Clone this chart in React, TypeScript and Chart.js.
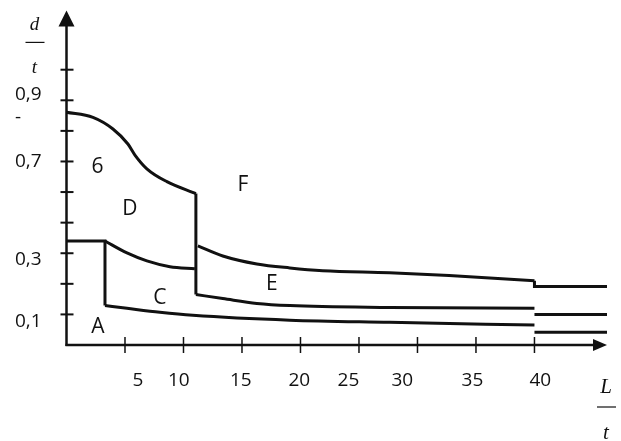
import React, { useEffect, useRef } from "react";
import { Chart, registerables } from "chart.js";

Chart.register(...registerables);

// ---- axis ticks and labels ----
const xTickValues = [5, 10, 15, 20, 25, 30, 35, 40];
const xTickLabels = ["5", "10", "15", "20", "25", "30", "35", "40"];
const xLabelAt = [6.1, 9.6, 14.9, 19.9, 24.1, 28.7, 34.7, 40.5];

const yTickValues = [0.1, 0.2, 0.3, 0.4, 0.5, 0.6, 0.7, 0.8, 0.9];
const yTickLabels = ["0,1", "0,3", "0,7", "-", "0,9"];
const yLabelAt = [0.076, 0.28, 0.6, 0.744, 0.82];

// ---- region labels ----
const regionNames = ["6", "D", "F", "C", "E", "A"];
const regionL = [2.65, 5.42, 15.07, 7.98, 17.55, 2.69];
const regionD = [0.581, 0.443, 0.524, 0.155, 0.199, 0.058];

// ---- boundary lines: [L/t, d/t] ----
const curve6: number[][] = [
  [0, 0.761], [2.26, 0.744], [3.97, 0.706], [5.25, 0.657], [5.85, 0.621],
  [6.87, 0.576], [8.58, 0.534], [11.06, 0.495],
];
const drop6: number[][] = [[11.06, 0.495], [11.06, 0.165]];
const curveELower: number[][] = [
  [11.06, 0.165], [13.36, 0.152], [16.27, 0.136], [19.09, 0.129], [27.6, 0.123], [40, 0.12],
];
const tailELower: number[][] = [[40, 0.1], [46.2, 0.1]];
const curveEUpper: number[][] = [
  [11.23, 0.324], [13.36, 0.291], [16.27, 0.265], [19.09, 0.252], [21.9, 0.243],
  [27.6, 0.236], [32.7, 0.227], [40, 0.21],
];
const tailEUpper: number[][] = [[40, 0.21], [40, 0.191], [46.2, 0.191]];
const stepA: number[][] = [[0, 0.34], [3.29, 0.34], [3.29, 0.129]];
const curveC: number[][] = [
  [3.29, 0.34], [5.17, 0.301], [6.87, 0.275], [8.84, 0.256], [10.97, 0.249],
];
const curveBottom: number[][] = [
  [3.29, 0.129], [5.17, 0.12], [7.98, 0.107], [10.8, 0.097], [19.09, 0.081],
  [27.6, 0.074], [40, 0.065],
];
const tailBottom: number[][] = [[40, 0.042], [46.2, 0.042]];

const lines: { pts: number[][]; curved: boolean }[] = [
  { pts: curve6, curved: true },
  { pts: drop6, curved: false },
  { pts: curveELower, curved: true },
  { pts: tailELower, curved: false },
  { pts: curveEUpper, curved: true },
  { pts: tailEUpper, curved: false },
  { pts: stepA, curved: false },
  { pts: curveC, curved: true },
  { pts: curveBottom, curved: true },
  { pts: tailBottom, curved: false },
];

const INK = "#111111";
const SANS = "'Open Sans', 'DejaVu Sans', sans-serif";
const SERIF = "'Liberation Serif', 'DejaVu Serif', serif";

const drawPlugin = {
  id: "handDrawnAxes",
  afterDatasetsDraw(chart: any) {
    const { ctx, chartArea, scales } = chart;
    const xs = scales.x;
    const ys = scales.y;
    const x0 = xs.getPixelForValue(0);
    const y0 = ys.getPixelForValue(0);
    ctx.save();
    ctx.strokeStyle = INK;
    ctx.fillStyle = INK;
    ctx.lineCap = "butt";

    // y axis + arrow
    ctx.lineWidth = 2.5;
    ctx.beginPath();
    ctx.moveTo(x0, y0 + 1);
    ctx.lineTo(x0, chartArea.top + 12);
    ctx.stroke();
    ctx.beginPath();
    ctx.moveTo(x0, chartArea.top - 1);
    ctx.lineTo(x0 - 8, chartArea.top + 15);
    ctx.lineTo(x0 + 8, chartArea.top + 15);
    ctx.closePath();
    ctx.fill();

    // x axis + arrow
    ctx.beginPath();
    ctx.moveTo(x0 - 1, y0);
    ctx.lineTo(chartArea.right - 10, y0);
    ctx.stroke();
    ctx.beginPath();
    ctx.moveTo(chartArea.right, y0);
    ctx.lineTo(chartArea.right - 14, y0 - 6);
    ctx.lineTo(chartArea.right - 14, y0 + 6);
    ctx.closePath();
    ctx.fill();

    // crossing tick marks
    ctx.lineWidth = 2;
    yTickValues.forEach((v) => {
      const py = ys.getPixelForValue(v);
      ctx.beginPath();
      ctx.moveTo(x0 - 6, py);
      ctx.lineTo(x0 + 7, py);
      ctx.stroke();
    });
    ctx.lineWidth = 1.5;
    xTickValues.forEach((v) => {
      const px = xs.getPixelForValue(v);
      ctx.beginPath();
      ctx.moveTo(px, y0 - 8);
      ctx.lineTo(px, y0 + 8);
      ctx.stroke();
    });

    // region labels
    ctx.font = `21px ${SANS}`;
    ctx.textAlign = "center";
    ctx.textBaseline = "middle";
    regionNames.forEach((name, i) => {
      ctx.fillText(name, xs.getPixelForValue(regionL[i]), ys.getPixelForValue(regionD[i]));
    });

    // axis titles as fractions
    ctx.font = `italic 19px ${SERIF}`;
    const dx = x0 - 32;
    ctx.fillText("d", dx, chartArea.top + 14);
    ctx.fillText("t", dx, chartArea.top + 57);
    ctx.lineWidth = 1.2;
    ctx.beginPath();
    ctx.moveTo(dx - 9, chartArea.top + 31);
    ctx.lineTo(dx + 10, chartArea.top + 31);
    ctx.stroke();

    ctx.font = `italic 21px ${SERIF}`;
    const lx = chartArea.right - 1;
    ctx.fillText("L", lx, y0 + 42);
    ctx.fillText("t", lx, y0 + 88);
    ctx.beginPath();
    ctx.moveTo(lx - 9, y0 + 62);
    ctx.lineTo(lx + 10, y0 + 62);
    ctx.stroke();

    ctx.restore();
  },
};

export default function App() {
  const canvasRef = useRef<HTMLCanvasElement | null>(null);

  useEffect(() => {
    const canvas = canvasRef.current;
    if (!canvas) return;
    const datasets = lines.map((ln) => ({
      data: ln.pts.map((p) => ({ x: p[0], y: p[1] })),
      borderColor: INK,
      borderWidth: 3,
      pointRadius: 0,
      fill: false,
      tension: ln.curved ? 0.4 : 0,
      cubicInterpolationMode: ln.curved ? ("monotone" as const) : ("default" as const),
      borderJoinStyle: "miter" as const,
    }));

    const chart = new Chart(canvas, {
      type: "line",
      data: { datasets },
      plugins: [drawPlugin],
      options: {
        animation: false,
        responsive: false,
        devicePixelRatio: 1,
        layout: { padding: { left: 15, top: 8, right: 14, bottom: 0 } },
        plugins: { legend: { display: false }, tooltip: { enabled: false } },
        scales: {
          x: {
            type: "linear",
            min: 0,
            max: 46.2,
            grid: { display: false, drawTicks: false },
            border: { display: false },
            afterFit: (s: any) => {
              s.height = 96;
            },
            afterBuildTicks: (s: any) => {
              s.ticks = xLabelAt.map((v) => ({ value: v }));
            },
            ticks: {
              autoSkip: false,
              maxRotation: 0,
              padding: 24,
              color: INK,
              font: { family: SANS, size: 19 },
              callback: (_v: any, i: number) => xTickLabels[i],
            },
          },
          y: {
            type: "linear",
            min: 0,
            max: 1.0906,
            grid: { display: false, drawTicks: false },
            border: { display: false },
            afterFit: (s: any) => {
              s.width = 51.5;
            },
            afterBuildTicks: (s: any) => {
              s.ticks = yLabelAt.map((v) => ({ value: v }));
            },
            ticks: {
              autoSkip: false,
              crossAlign: "far",
              padding: 0,
              color: INK,
              font: { family: SANS, size: 19 },
              callback: (_v: any, i: number) => yTickLabels[i],
            },
          },
        },
      } as any,
    });
    return () => chart.destroy();
  }, []);

  return (
    <div style={{ position: "fixed", left: 0, top: 0, width: 621, height: 441, background: "#fff" }}>
      <canvas ref={canvasRef} width={621} height={441} style={{ display: "block" }} />
    </div>
  );
}
